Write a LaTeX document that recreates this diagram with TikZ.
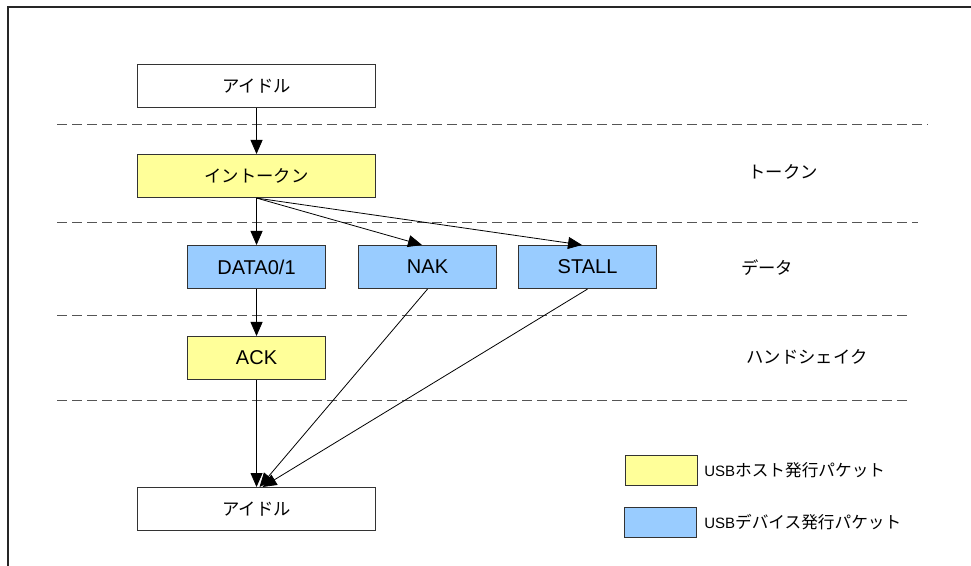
\documentclass[tikz,border=0pt]{standalone}
\usepackage{fontspec}
\setmainfont{Liberation Sans}
\newfontfamily\cjk{Noto Sans CJK JP}
\usetikzlibrary{arrows.meta,calc}
\definecolor{hostyellow}{HTML}{FFFF99}
\definecolor{devblue}{HTML}{99CCFF}
\definecolor{boxline}{HTML}{333333}
\definecolor{dashgray}{HTML}{555555}
\tikzset{
  pbox/.style={draw=boxline, line width=0.8pt, inner sep=0pt, anchor=north west},
  bigbox/.style={pbox, minimum width=178.5pt, minimum height=32.25pt},
  smallbox/.style={pbox, minimum width=103.5pt, minimum height=32.25pt},
  hostbox/.style={fill=hostyellow},
  devbox/.style={fill=devblue},
  legbox/.style={draw=boxline, line width=0.8pt, inner sep=0pt, anchor=north west, minimum width=54pt, minimum height=22.5pt},
  arr/.style={draw=black, line width=0.6pt, -{Triangle[length=10.5pt,width=9pt]}},
  sep/.style={draw=dashgray, line width=0.75pt, dash pattern=on 7.5pt off 3.75pt},
  jp/.style={font=\cjk\fontsize{13}{15}\selectfont},
  lat/.style={font=\fontsize{15}{17}\selectfont},
  lbl/.style={jp, inner sep=0pt}
}
\begin{document}
\begin{tikzpicture}[x=0.75pt,y=-0.75pt]
\useasboundingbox (0,0) rectangle (971,566);
% frame
\draw[line width=0.9pt, draw=black!85] (971,7) -- (8,7) -- (8,566);
% separators
\draw[sep] (57,125) -- (928,125);
\draw[sep] (57,223) -- (918,223);
\draw[sep] (57,316) -- (912,316);
\draw[sep] (57,401) -- (912,401);
% boxes
\node[bigbox, fill=white, jp] (idle1) at (137,64) {アイドル};
\node[bigbox, hostbox, jp] (tok) at (137,154) {イントークン};
\node[smallbox, devbox, lat] (data) at (187,245) {DATA0/1};
\node[smallbox, devbox, lat] (nak) at (358,245) {NAK};
\node[smallbox, devbox, lat] (stall) at (518,245) {STALL};
\node[smallbox, hostbox, lat] (ack) at (187,336) {ACK};
\node[bigbox, fill=white, jp] (idle2) at (137,487) {アイドル};
% stage labels
\node[lbl] (ltok) at (783,172) {トークン};
\node[lbl] (ldata) at (767,268) {データ};
\node[lbl] (lhand) at (807,357) {ハンドシェイク};
% legend
\node[legbox, hostbox] (leg1) at (625,455) {};
\node[legbox, devbox] (leg2) at (624,507) {};
\node[anchor=west, inner sep=0pt] (leg1t) at (704,470) {{\fontsize{11.25}{13}\selectfont USB}{\cjk\fontsize{12.5}{14}\selectfont ホスト発行パケット}};
\node[anchor=west, inner sep=0pt] (leg2t) at (704,522) {{\fontsize{11.25}{13}\selectfont USB}{\cjk\fontsize{12.5}{14}\selectfont デバイス発行パケット}};
% connectors
\draw[arr] (idle1.south) -- (tok.north);
\draw[arr] (tok.south) -- (data.north);
\draw[arr] (tok.south) -- ($(nak.north)+(-5.5,0)$);
\draw[arr] (tok.south) -- ($(stall.north)+(-5.5,0)$);
\draw[arr] (data.south) -- (ack.north);
\draw[arr] (ack.south) -- (idle2.north);
\draw[arr] (nak.south) -- ($(idle2.north)+(3,0)$);
\draw[arr] (stall.south) -- ($(idle2.north)+(6,0)$);
\end{tikzpicture}
\end{document}
